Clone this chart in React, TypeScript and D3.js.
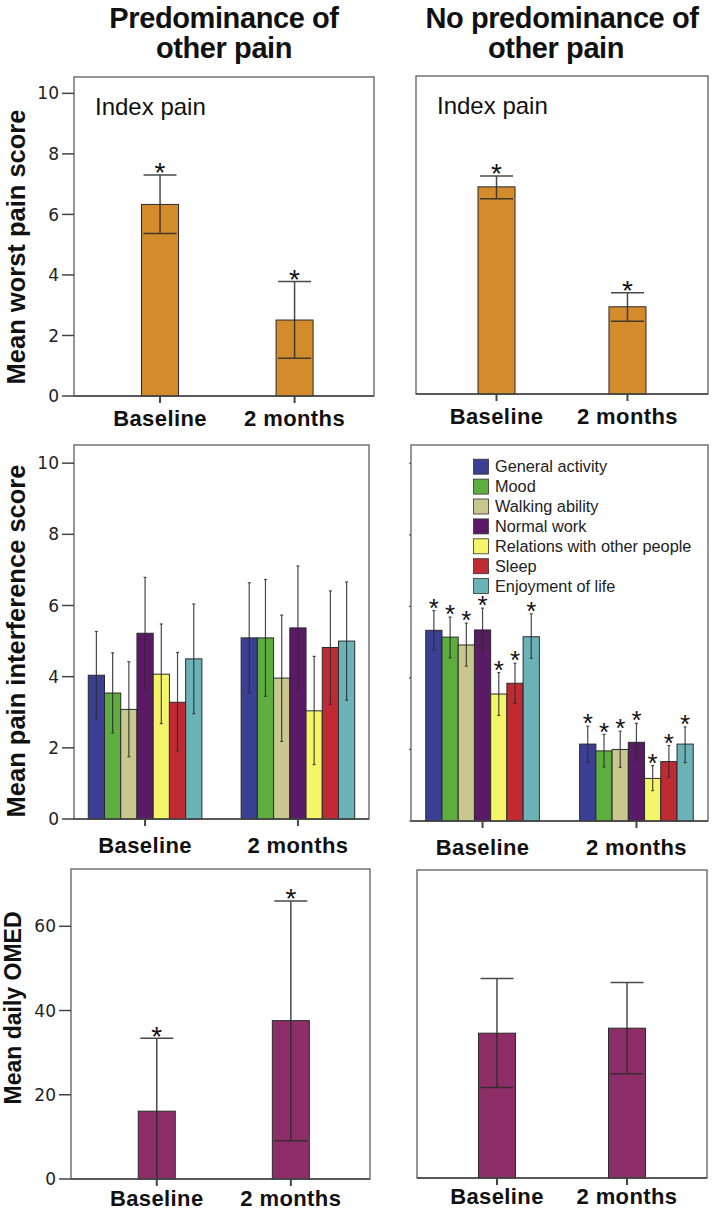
import * as d3 from "d3";

// categories
const periods = ["Baseline", "2 months"];
const domains = [
  "General activity",
  "Mood",
  "Walking ability",
  "Normal work",
  "Relations with other people",
  "Sleep",
  "Enjoyment of life",
];
const domainColors = ["#3a3f94", "#5dae3e", "#c9c78d", "#5a1a65", "#f5f56a", "#bf2a33", "#6cb3b8"];

// mean worst pain score (mean, lower CI, upper CI)
const worstPredMean = [6.33, 2.51];
const worstPredLow = [5.37, 1.25];
const worstPredHigh = [7.3, 3.78];
const worstNoPredMean = [6.84, 2.88];
const worstNoPredLow = [6.45, 2.4];
const worstNoPredHigh = [7.2, 3.34];

// pain interference, one row per period, one value per domain
const interfPredMean = [
  [4.04, 3.54, 3.08, 5.22, 4.07, 3.28, 4.5],
  [5.09, 5.09, 3.96, 5.37, 3.04, 4.82, 5.0],
];
const interfPredLow = [
  [2.81, 2.42, 1.75, 3.65, 2.68, 1.91, 2.96],
  [3.54, 3.45, 2.18, 3.65, 1.53, 3.22, 3.34],
];
const interfPredHigh = [
  [5.27, 4.67, 4.42, 6.79, 5.48, 4.68, 6.04],
  [6.64, 6.73, 5.73, 7.11, 4.57, 6.41, 6.66],
];
const interfNoPredMean = [
  [5.33, 5.14, 4.92, 5.34, 3.55, 3.85, 5.15],
  [2.15, 1.96, 2.0, 2.2, 1.19, 1.66, 2.15],
];
const interfNoPredLow = [
  [4.78, 4.56, 4.33, 4.74, 2.95, 3.29, 4.55],
  [1.64, 1.51, 1.5, 1.69, 0.85, 1.22, 1.63],
];
const interfNoPredHigh = [
  [5.88, 5.7, 5.53, 5.95, 4.15, 4.41, 5.79],
  [2.65, 2.42, 2.51, 2.73, 1.55, 2.11, 2.63],
];

// mean daily OMED
const omedPredMean = [16.1, 37.6];
const omedPredLow = [-3, 9.1];
const omedPredHigh = [33.4, 66.0];
const omedNoPredMean = [34.6, 35.8];
const omedNoPredLow = [21.6, 24.9];
const omedNoPredHigh = [47.7, 46.7];

const painTicks = [0, 2, 4, 6, 8, 10];
const omedTicks = [0, 20, 40, 60];

const SANS = "'Liberation Sans', Arial, sans-serif";

type Bar = { period: number; idx: number; mean: number; lo: number; hi: number; color: string; star: boolean };

type PanelProps = {
  left: number;
  right: number;
  top: number;
  bottom: number;
  yMax: number;
  ticks?: number[];
  minorTicks?: number[];
  bars: Bar[];
  grouped: boolean;
  align: number;
  catY: number;
  note?: string;
  legend?: boolean;
};

function Panel(p: PanelProps) {
  const y = d3.scaleLinear().domain([0, p.yMax]).range([p.bottom, p.top]);
  const x = d3
    .scalePoint<string>()
    .domain(periods)
    .range([p.left, p.right])
    .padding(p.grouped ? 0.465 : 0.615)
    .align(p.align);
  const inner = d3.scaleBand<string>().domain(domains).range([-56.8, 56.8]).padding(0);
  const bw = p.grouped ? inner.bandwidth() : 37;
  const capW = p.grouped ? 3 : 33;
  const starSize = p.grouped ? 26 : 28;

  const barX = (b: Bar) =>
    p.grouped ? (x(periods[b.period]) as number) + (inner(domains[b.idx]) as number) : (x(periods[b.period]) as number) - bw / 2;

  return (
    <g>
      <rect x={p.left} y={p.top} width={p.right - p.left} height={p.bottom - p.top} fill="white" stroke="#6a6a6a" strokeWidth={1.4} />
      {p.note && (
        <text x={p.left + 21} y={p.top + 38} fontFamily={SANS} fontSize={24} fill="#111">
          {p.note}
        </text>
      )}
      {p.bars.map((b, i) => (
        <rect key={"b" + i} x={barX(b)} y={y(b.mean)} width={bw} height={y(0) - y(b.mean)} fill={b.color} stroke="#2a2a2a" strokeWidth={1} />
      ))}
      {p.bars.map((b, i) => {
        const cx = barX(b) + bw / 2;
        const yl = y(Math.max(0, b.lo));
        const yh = y(b.hi);
        return (
          <g key={"e" + i} stroke="#2b2b2b" strokeWidth={p.grouped ? 1.2 : 1.5} opacity={0.85}>
            <line x1={cx} x2={cx} y1={yl} y2={yh} />
            <line x1={cx - capW / 2} x2={cx + capW / 2} y1={yh} y2={yh} />
            {b.lo > 0 && <line x1={cx - capW / 2} x2={cx + capW / 2} y1={yl} y2={yl} />}
          </g>
        );
      })}
      {p.bars
        .filter((b) => b.star)
        .map((b, i) => (
          <text
            key={"s" + i}
            x={barX(b) + bw / 2}
            y={y(b.hi) - 9 + starSize * 0.58}
            textAnchor="middle"
            fontFamily={SANS}
            fontSize={starSize}
            fill="#111"
          >
            *
          </text>
        ))}
      <line x1={p.left} x2={p.right} y1={p.bottom} y2={p.bottom} stroke="#444" strokeWidth={1.6} />
      {p.ticks &&
        p.ticks.map((t) => (
          <g key={"t" + t}>
            <line x1={p.left - 12} x2={p.left} y1={y(t)} y2={y(t)} stroke="#444" strokeWidth={1.5} />
            <text
              x={p.left - 15}
              y={y(t)}
              dy="0.36em"
              textAnchor="end"
              fontFamily="'DejaVu Sans', sans-serif"
              fontSize={17}
              fill="#222"
            >
              {t}
            </text>
          </g>
        ))}
      {p.minorTicks &&
        p.minorTicks.map((t) => (
          <line key={"m" + t} x1={p.left - 2} x2={p.left} y1={y(t)} y2={y(t)} stroke="#555" strokeWidth={1.2} />
        ))}
      {periods.map((c) => (
        <g key={c}>
          <line x1={x(c)} x2={x(c)} y1={p.bottom} y2={p.bottom + 7} stroke="#444" strokeWidth={2} />
          <text
            x={x(c)}
            y={p.catY}
            textAnchor="middle"
            fontFamily={SANS}
            fontWeight="bold"
            fontSize={22}
            letterSpacing={0.4}
            fill="#111"
          >
            {c}
          </text>
        </g>
      ))}
      {p.legend &&
        domains.map((d, i) => {
          const ly = p.top + 21.7 + i * 19.9;
          return (
            <g key={d}>
              <rect x={p.left + 62.5} y={ly - 7.5} width={15} height={15} fill={domainColors[i]} stroke="#333" strokeWidth={0.8} />
              <text x={p.left + 84} y={ly} dy="0.35em" fontFamily={SANS} fontSize={16.3} fill="#222">
                {d}
              </text>
            </g>
          );
        })}
    </g>
  );
}

function singleBars(mean: number[], lo: number[], hi: number[], color: string, star: boolean): Bar[] {
  return mean.map((m, i) => ({ period: i, idx: 0, mean: m, lo: lo[i], hi: hi[i], color, star }));
}

function groupBars(mean: number[][], lo: number[][], hi: number[][], star: boolean): Bar[] {
  const out: Bar[] = [];
  mean.forEach((row, pi) =>
    row.forEach((m, di) => out.push({ period: pi, idx: di, mean: m, lo: lo[pi][di], hi: hi[pi][di], color: domainColors[di], star }))
  );
  return out;
}

export default function App() {
  const orange = "#d38b2c";
  const plum = "#8e2e68";
  return (
    <svg width={714} height={1211} style={{ position: "absolute", left: 0, top: 0, background: "white" }}>
      {/* column titles */}
      <g fontFamily={SANS} fontWeight="bold" fontSize={29} fill="#111" textAnchor="middle">
        <text x={224} y={28} letterSpacing={-0.4}>Predominance of</text>
        <text x={224} y={58} letterSpacing={-0.4}>other pain</text>
        <text x={562} y={28} letterSpacing={-0.4}>No predominance of</text>
        <text x={556} y={58} letterSpacing={-0.4}>other pain</text>
      </g>

      {/* y axis titles */}
      <g fontFamily={SANS} fontWeight="bold" fill="#111" textAnchor="middle">
        <text transform="translate(25,247) rotate(-90)" fontSize={25.5}>Mean worst pain score</text>
        <text transform="translate(25,641) rotate(-90)" fontSize={25.5}>Mean pain interference score</text>
        <text transform="translate(21,1008) rotate(-90)" fontSize={23}>Mean daily OMED</text>
      </g>

      <Panel
        left={74} right={374} top={77} bottom={396} yMax={10.54} ticks={painTicks} align={0.52}
        bars={singleBars(worstPredMean, worstPredLow, worstPredHigh, orange, true)}
        grouped={false} catY={426} note="Index pain"
      />
      <Panel
        left={416} right={708} top={76} bottom={394} yMax={10.5} align={0.5}
        bars={singleBars(worstNoPredMean, worstNoPredLow, worstNoPredHigh, orange, true)}
        grouped={false} catY={424} note="Index pain"
      />
      <Panel
        left={74} right={369} top={445} bottom={819} yMax={10.51} ticks={painTicks} align={0.5}
        bars={groupBars(interfPredMean, interfPredLow, interfPredHigh, false)}
        grouped={true} catY={853}
      />
      <Panel
        left={411} right={708} top={445} bottom={821} yMax={10.51} minorTicks={painTicks} align={0.5}
        bars={groupBars(interfNoPredMean, interfNoPredLow, interfNoPredHigh, true)}
        grouped={true} catY={855} legend
      />
      <Panel
        left={71} right={370} top={869} bottom={1179} yMax={73.6} ticks={omedTicks} align={0.52}
        bars={singleBars(omedPredMean, omedPredLow, omedPredHigh, plum, true)}
        grouped={false} catY={1206}
      />
      <Panel
        left={417} right={707} top={870} bottom={1178} yMax={73.6} align={0.5}
        bars={singleBars(omedNoPredMean, omedNoPredLow, omedNoPredHigh, plum, false)}
        grouped={false} catY={1204}
      />
    </svg>
  );
}
